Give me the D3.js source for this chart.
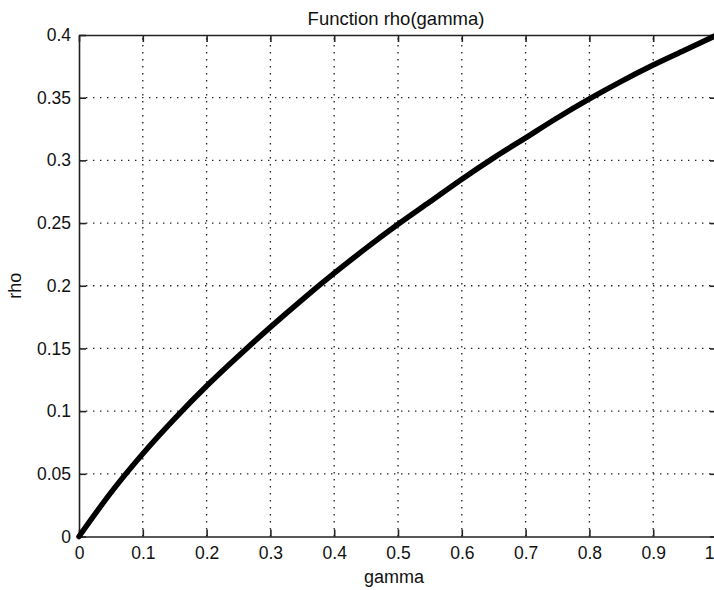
<!DOCTYPE html>
<html><head><meta charset="utf-8">
<script src="https://cdn.jsdelivr.net/npm/d3@7"></script>
<style>
html,body{margin:0;padding:0;background:#fff;overflow:hidden;}
text{font-family:"Liberation Sans",Arial,sans-serif;fill:#111;}
</style></head>
<body>
<svg id="chart" width="714" height="590"></svg>
<script>
const title = "Function rho(gamma)";
const xLabel = "gamma";
const yLabel = "rho";
const gammaValues = [0,0.05,0.1,0.15,0.2,0.25,0.3,0.35,0.4,0.45,0.5,0.55,0.6,0.65,0.7,0.75,0.8,0.85,0.9,0.95,1.0];
const rhoValues   = [0,0.035,0.066,0.094,0.120,0.144,0.167,0.189,0.210,0.230,0.249,0.267,0.285,0.302,0.318,0.334,0.349,0.363,0.376,0.388,0.400];
const xTicks = [0,0.1,0.2,0.3,0.4,0.5,0.6,0.7,0.8,0.9,1];
const xTickLabels = ["0","0.1","0.2","0.3","0.4","0.5","0.6","0.7","0.8","0.9","1"];
const yTicks = [0,0.05,0.1,0.15,0.2,0.25,0.3,0.35,0.4];
const yTickLabels = ["0","0.05","0.1","0.15","0.2","0.25","0.3","0.35","0.4"];

const svg = d3.select("#chart");
const L = 79, R = 717, T = 35, B = 536.5;
const x = d3.scaleLinear().domain([0,1]).range([L,R]);
const y = d3.scaleLinear().domain([0,0.4]).range([B,T]);

// grid
const grid = svg.append("g");
grid.selectAll(".vg").data(xTicks.slice(1,-1)).enter().append("line")
  .attr("x1",d=>x(d)).attr("x2",d=>x(d)).attr("y1",B).attr("y2",T)
  .attr("stroke","#222").attr("stroke-width",1.3).attr("stroke-dasharray","1.4,5.6");
grid.selectAll(".hg").data(yTicks.slice(1,-1)).enter().append("line")
  .attr("y1",d=>y(d)).attr("y2",d=>y(d)).attr("x1",L).attr("x2",R)
  .attr("stroke","#222").attr("stroke-width",1.3).attr("stroke-dasharray","1.4,5.6");

// axes
const fmtX = (d,i)=>xTickLabels[i];
const fmtY = (d,i)=>yTickLabels[i];
const gx = svg.append("g").attr("transform",`translate(0,${B})`)
  .call(d3.axisBottom(x).tickValues(xTicks).tickFormat(fmtX).tickSizeInner(-7).tickSizeOuter(0).tickPadding(10));
const gy = svg.append("g").attr("transform",`translate(${L},0)`)
  .call(d3.axisLeft(y).tickValues(yTicks).tickFormat(fmtY).tickSizeInner(-7).tickSizeOuter(0).tickPadding(8));
const gxt = svg.append("g").attr("transform",`translate(0,${T})`)
  .call(d3.axisTop(x).tickValues(xTicks).tickFormat("").tickSizeInner(-7).tickSizeOuter(0));
const gyr = svg.append("g").attr("transform",`translate(${R},0)`)
  .call(d3.axisRight(y).tickValues(yTicks).tickFormat("").tickSizeInner(-7).tickSizeOuter(0));
[gx,gy,gxt,gyr].forEach(g=>{
  g.select(".domain").attr("stroke","#222").attr("stroke-width",1.6);
  g.selectAll(".tick line").attr("stroke","#222").attr("stroke-width",1.6);
  g.selectAll(".tick text").attr("font-size",17.5).attr("font-family","'Liberation Sans',Arial,sans-serif").attr("fill","#111");
});
// keep the last x label ("1") inside the window
gx.selectAll(".tick text").filter((d,i)=>i===xTicks.length-1)
  .attr("text-anchor","end").attr("x",714-R);

// curve
const line = d3.line().x((d,i)=>x(gammaValues[i])).y(d=>y(d)).curve(d3.curveMonotoneX);
svg.append("path").datum(rhoValues).attr("d",line)
  .attr("fill","none").attr("stroke","#000").attr("stroke-width",5.5).attr("stroke-linecap","round");

// labels
svg.append("text").attr("x",396).attr("y",25).attr("text-anchor","middle")
  .attr("font-size",18.5).text(title);
svg.append("text").attr("x",394).attr("y",583).attr("text-anchor","middle")
  .attr("font-size",18).text(xLabel);
svg.append("text").attr("transform",`translate(21,${(T+B)/2}) rotate(-90)`).attr("text-anchor","middle")
  .attr("font-size",18).text(yLabel);
</script>
</body></html>
